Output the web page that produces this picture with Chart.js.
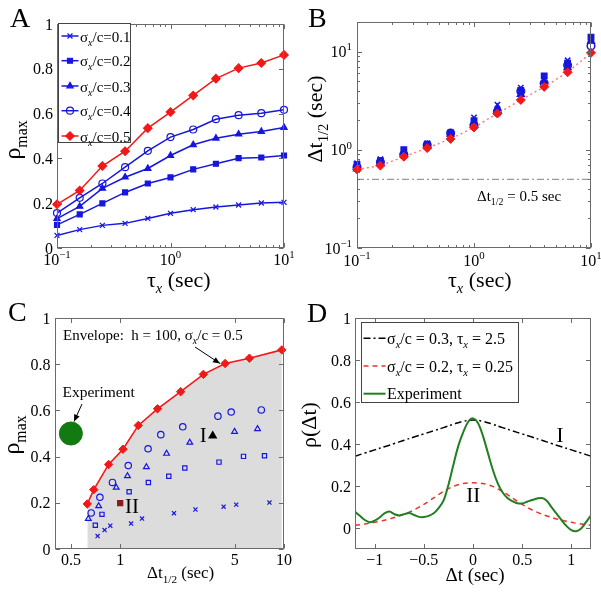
<!DOCTYPE html>
<html><head><meta charset="utf-8">
<script src="https://cdn.jsdelivr.net/npm/chart.js@4.4.1/dist/chart.umd.min.js"></script>
<style>
html,body{margin:0;padding:0;background:#fff;}
#wrap{position:relative;width:601px;height:592px;overflow:hidden;}
canvas{position:absolute;left:0;top:0;}
</style></head><body>
<div id="wrap">
<canvas id="cA" width="601" height="592"></canvas>
<canvas id="cB" width="601" height="592"></canvas>
<canvas id="cC" width="601" height="592"></canvas>
<canvas id="cD" width="601" height="592"></canvas>
</div>
<script>
// ---------------- DATA ----------------
const taus = [0.1, 0.1585, 0.2512, 0.3981, 0.631, 1, 1.585, 2.512, 3.981, 6.31, 10];
const sigmaLabels = ['0.1', '0.2', '0.3', '0.4', '0.5'];
// rho_max vs tau (panel A, also y of panel C)
const rho01 = [0.056, 0.082, 0.101, 0.110, 0.132, 0.155, 0.171, 0.183, 0.192, 0.201, 0.204];
const rho02 = [0.103, 0.150, 0.199, 0.248, 0.288, 0.315, 0.351, 0.376, 0.401, 0.404, 0.413];
const rho03 = [0.131, 0.186, 0.266, 0.316, 0.355, 0.413, 0.461, 0.490, 0.508, 0.520, 0.538];
const rho04 = [0.156, 0.224, 0.288, 0.361, 0.434, 0.495, 0.529, 0.575, 0.593, 0.602, 0.617];
const rho05 = [0.195, 0.257, 0.366, 0.432, 0.535, 0.607, 0.681, 0.756, 0.803, 0.826, 0.862];
// Delta t_1/2 vs tau (panel B, also x of panel C)
const dt01 = [0.728, 0.803, 0.870, 1.166, 1.36, 2.13, 2.88, 4.28, 5.11, 8.15, 13.5];
const dt02 = [0.705, 0.774, 1.0, 1.134, 1.486, 1.98, 2.48, 4.01, 5.66, 7.60, 14.0];
const dt03 = [0.639, 0.739, 0.946, 1.108, 1.445, 1.92, 2.66, 3.67, 4.99, 6.89, 12.8];
const dt04 = [0.665, 0.752, 0.897, 1.12, 1.48, 1.77, 2.41, 3.95, 4.76, 7.27, 11.4];
const dt05 = [0.63, 0.69, 0.85, 1.04, 1.29, 1.69, 2.34, 3.22, 4.37, 6.15, 9.7];
const refDt = 0.5;
const highlightI = 7;   // sigma=0.3, tau=2.5
const highlightII = 2;  // sigma=0.2, tau=0.25
const expDt = [0.5];
const expRho = [0.5];
// panel D
const lagModel = [-1.2,-1.1,-1.0,-0.9,-0.8,-0.7,-0.6,-0.5,-0.4,-0.3,-0.2,-0.1,0,0.1,0.2,0.3,0.4,0.5,0.6,0.7,0.8,0.9,1.0,1.1,1.2];
const rhoI  = [0.342,0.357,0.372,0.387,0.402,0.418,0.433,0.448,0.463,0.478,0.494,0.508,0.514,0.508,0.494,0.478,0.463,0.448,0.433,0.418,0.402,0.387,0.372,0.357,0.342];
const rhoII = [0.013,0.019,0.027,0.037,0.050,0.066,0.086,0.112,0.143,0.174,0.198,0.212,0.215,0.212,0.198,0.174,0.143,0.112,0.086,0.066,0.050,0.037,0.027,0.019,0.013];
const lagExp = [-1.2,-1.15,-1.1,-1.05,-1.0,-0.95,-0.9,-0.85,-0.8,-0.75,-0.7,-0.65,-0.6,-0.55,-0.5,-0.45,-0.4,-0.35,-0.3,-0.25,-0.2,-0.15,-0.1,-0.05,0,0.05,0.1,0.15,0.2,0.25,0.3,0.35,0.4,0.45,0.5,0.55,0.6,0.65,0.7,0.75,0.8,0.85,0.9,0.95,1.0,1.05,1.1,1.15,1.2];
const rhoExp = [0.077,0.058,0.038,0.027,0.035,0.050,0.070,0.078,0.066,0.060,0.066,0.071,0.062,0.053,0.052,0.058,0.070,0.095,0.130,0.205,0.300,0.390,0.455,0.505,0.522,0.500,0.440,0.360,0.280,0.215,0.170,0.143,0.128,0.118,0.117,0.125,0.133,0.140,0.143,0.130,0.098,0.068,0.038,0.010,-0.010,-0.015,-0.002,0.028,0.060];
// tick labels
const logTicks = [0.1, 1, 10];
const logTickLabels = ['10^{\u22121}', '10^{0}', '10^{1}'];
const rhoTicks = [0, 0.2, 0.4, 0.6, 0.8, 1];
const rhoTickLabels = ['0', '0.2', '0.4', '0.6', '0.8', '1'];
const cTicksX = [0.5, 1, 5, 10];
const cTickLabelsX = ['0.5', '1', '5', '10'];
const dTicksX = [-1, -0.5, 0, 0.5, 1];
const dTickLabelsX = ['\u22121', '\u22120.5', '0', '0.5', '1'];

// ---------------- HELPERS ----------------
const FONT = '"Liberation Serif","Times New Roman",serif';
const AXIS = '#6a6a6a';
const BLUE = '#1616e0', RED = '#f01818', GREEN_D = '#217f21', GREEN_C = '#117a11';
function fnt(sz, it){ return (it ? 'italic ' : '') + sz + 'px ' + FONT; }
function parse(str){
  const parts = []; let i = 0, buf = '';
  while (i < str.length){
    const c = str[i];
    if ((c === '_' || c === '^') && (str[i+1] === '{' || str[i+1] === '[')){
      if (buf){ parts.push({t: buf, k: 'n'}); buf = ''; }
      const close = str[i+1] === '{' ? '}' : ']';
      const j = str.indexOf(close, i + 2);
      parts.push({t: str.slice(i + 2, j), k: c === '^' ? 'sup' : (close === ']' ? 'subi' : 'sub')});
      i = j + 1;
    } else { buf += c; i++; }
  }
  if (buf) parts.push({t: buf, k: 'n'});
  return parts;
}
function drawRich(ctx, str, x, y, S, align, color, rot){
  ctx.save(); ctx.translate(x, y); if (rot) ctx.rotate(rot);
  const segs = parse(str).map(p => {
    let sz = S, dy = 0, it = false;
    if (p.k === 'sub' || p.k === 'subi'){ sz = S * 0.66; dy = S * 0.28; }
    if (p.k === 'sup'){ sz = S * 0.68; dy = -S * 0.42; }
    if (p.k === 'subi') it = true;
    ctx.font = fnt(sz, it);
    return {t: p.t, sz, dy, it, w: ctx.measureText(p.t).width};
  });
  const total = segs.reduce((a, s) => a + s.w, 0);
  let cx = align === 'center' ? -total / 2 : (align === 'right' ? -total : 0);
  ctx.fillStyle = color || '#000'; ctx.textBaseline = 'alphabetic'; ctx.textAlign = 'left';
  for (const s of segs){ ctx.font = fnt(s.sz, s.it); ctx.fillText(s.t, cx, s.dy); cx += s.w; }
  ctx.restore();
}
function logMinor(min, max){
  const out = [];
  for (let d = Math.pow(10, Math.floor(Math.log10(min))); d < max; d *= 10)
    for (let k = 2; k <= 9; k++){ const v = k * d; if (v > min * 1.0001 && v < max * 0.9999) out.push(v); }
  return out;
}
function arrow(ctx, x1, y1, x2, y2){
  ctx.save(); ctx.strokeStyle = '#000'; ctx.fillStyle = '#000'; ctx.lineWidth = 1;
  ctx.beginPath(); ctx.moveTo(x1, y1); ctx.lineTo(x2, y2); ctx.stroke();
  const a = Math.atan2(y2 - y1, x2 - x1), L = 7, W = 3;
  ctx.beginPath(); ctx.moveTo(x2, y2);
  ctx.lineTo(x2 - L*Math.cos(a) + W*Math.sin(a), y2 - L*Math.sin(a) - W*Math.cos(a));
  ctx.lineTo(x2 - L*Math.cos(a) - W*Math.sin(a), y2 - L*Math.sin(a) + W*Math.cos(a));
  ctx.closePath(); ctx.fill(); ctx.restore();
}
function pts(xs, ys){ return xs.map((x, i) => ({x: x, y: ys[i]})); }

function makeDeco(cfg){
  return { id: 'deco' + cfg.id, afterDraw(chart){
    const ctx = chart.ctx, a = chart.chartArea, xs = chart.scales.x, ys = chart.scales.y;
    ctx.save();
    ctx.strokeStyle = AXIS; ctx.lineWidth = 1; ctx.setLineDash([]);
    const seg = (x1, y1, x2, y2) => { ctx.beginPath(); ctx.moveTo(x1, y1); ctx.lineTo(x2, y2); ctx.stroke(); };
    const L = Math.round(a.left) + 0.5, R = Math.round(a.right) - 0.5, T = Math.round(a.top) + 0.5, B = Math.round(a.bottom) - 0.5;
    const xt = (vals, len) => vals.forEach(v => { const p = Math.round(xs.getPixelForValue(v)) + 0.5; seg(p, B, p, B - len); seg(p, T, p, T + len); });
    const yt = (vals, len) => vals.forEach(v => { const p = Math.round(ys.getPixelForValue(v)) + 0.5; seg(L, p, L + len, p); seg(R, p, R - len, p); });
    xt(cfg.xMajor, 4.5); yt(cfg.yMajor, 4.5);
    if (cfg.xMinor) xt(cfg.xMinor, 2.5);
    if (cfg.yMinor) yt(cfg.yMinor, 2.5);
    ctx.strokeRect(L, T, R - L, B - T);
    cfg.xMajor.forEach((v, i) => drawRich(ctx, cfg.xLabels[i], xs.getPixelForValue(v), a.bottom + cfg.xLabDy, 16, 'center'));
    cfg.yMajor.forEach((v, i) => drawRich(ctx, cfg.yLabels[i], a.left - cfg.yLabDx, ys.getPixelForValue(v) + 5.5, 16, 'right'));
    (cfg.texts || []).forEach(t => drawRich(ctx, t.s, t.x, t.y, t.size, t.align || 'left', t.color, t.rot));
    if (cfg.extra) cfg.extra(ctx, chart);
    ctx.restore();
  }};
}
function baseOpts(L, T, R, B, xType, xMin, xMax, yType, yMin, yMax){
  return {
    responsive: false, animation: false, devicePixelRatio: 1,
    layout: {padding: {left: L, top: T, right: 601 - R, bottom: 592 - B}, autoPadding: false},
    plugins: {legend: {display: false}, tooltip: {enabled: false}},
    events: [],
    scales: {
      x: {type: xType, min: xMin, max: xMax, display: false},
      y: {type: yType, min: yMin, max: yMax, display: false}
    }
  };
}
const PD = Chart.helpers.drawPoint;
const styleA = [
  {ps: 'crossRot', r: 3.5, fill: BLUE, col: BLUE},
  {ps: 'rect', r: 3.5, fill: BLUE, col: BLUE},
  {ps: 'triangle', r: 3.6, fill: BLUE, col: BLUE},
  {ps: 'circle', r: 3.5, fill: 'rgba(255,255,255,0)', col: BLUE},
  {ps: 'rectRot', r: 4.2, fill: RED, col: RED}
];
const radiusC = [2.9, 3.0, 3.3, 3.2];
const rhoAll = [rho01, rho02, rho03, rho04, rho05];
const dtAll = [dt01, dt02, dt03, dt04, dt05];

// ---------------- PANEL A ----------------
(function(){
  const o = baseOpts(57, 24, 284, 248, 'logarithmic', 0.1, 10, 'linear', 0, 1);
  const datasets = rhoAll.map((r, k) => ({
    data: pts(taus, r), showLine: true, borderColor: styleA[k].col, borderWidth: 1.5,
    pointStyle: styleA[k].ps, pointRadius: styleA[k].r, pointBackgroundColor: styleA[k].fill,
    pointBorderColor: styleA[k].col, pointBorderWidth: 1.2, clip: false, order: 5 - k
  }));
  new Chart(document.getElementById('cA'), {type: 'scatter', data: {datasets}, options: o,
    plugins: [makeDeco({id: 'A', xMajor: logTicks, xMinor: logMinor(0.1, 10), yMajor: rhoTicks,
      xLabels: logTickLabels, yLabels: rhoTickLabels, xLabDy: 17, yLabDx: 4,
      texts: [
        {s: 'A', x: 10, y: 27, size: 28},
        {s: '\u03C4_[x] (sec)', x: 147, y: 287, size: 22},
        {s: '\u03C1_{max}', x: 20, y: 140, size: 24, align: 'center', rot: -Math.PI/2}
      ],
      extra(ctx){
        ctx.fillStyle = '#fff'; ctx.fillRect(58, 23, 73, 120);
        ctx.strokeStyle = '#444'; ctx.lineWidth = 1; ctx.strokeRect(58.5, 23.5, 72, 119);
        const ys = [36, 60.7, 86, 110.7, 136];
        ys.forEach((y, k) => {
          const st = styleA[k];
          ctx.strokeStyle = st.col; ctx.lineWidth = 1.5;
          ctx.beginPath(); ctx.moveTo(61.5, y); ctx.lineTo(78.5, y); ctx.stroke();
          ctx.fillStyle = st.fill; ctx.lineWidth = 1.2;
          PD(ctx, {pointStyle: st.ps, radius: st.r, borderWidth: 1.2, rotation: 0}, 70, y);
          drawRich(ctx, '\u03C3_[x]/c=' + sigmaLabels[k], 80, y + 5.5, 15, 'left');
        });
      }
    })]
  });
})();

// ---------------- PANEL B ----------------
(function(){
  const o = baseOpts(357, 22, 591, 248, 'logarithmic', 0.1, 10, 'logarithmic', 0.1, 20);
  const datasets = [0, 1, 2, 3].map(k => ({
    data: pts(taus, dtAll[k]), showLine: false,
    pointStyle: styleA[k].ps, pointRadius: styleA[k].r + 0.3, pointBackgroundColor: styleA[k].fill,
    pointBorderColor: styleA[k].col, pointBorderWidth: 1.5, clip: false, order: 2
  }));
  datasets.push({
    data: pts(taus, dt05), showLine: true, borderColor: '#ff7a7a', borderWidth: 1.5, borderDash: [2, 3],
    pointStyle: 'rectRot', pointRadius: 4.5, pointBackgroundColor: RED, pointBorderColor: RED,
    pointBorderWidth: 1, clip: false, order: 1
  });
  datasets.push({
    data: [{x: 0.1, y: refDt}, {x: 10, y: refDt}], showLine: true, borderColor: '#9a9a9a',
    borderWidth: 1.2, borderDash: [7, 3, 2, 3], pointRadius: 0, order: 3
  });
  new Chart(document.getElementById('cB'), {type: 'scatter', data: {datasets}, options: o,
    plugins: [makeDeco({id: 'B', xMajor: logTicks, xMinor: logMinor(0.1, 10), yMajor: logTicks, yMinor: logMinor(0.1, 20),
      xLabels: logTickLabels, yLabels: logTickLabels, xLabDy: 18, yLabDx: 5,
      texts: [
        {s: 'B', x: 308, y: 27, size: 28},
        {s: '\u03C4_[x] (sec)', x: 448, y: 287, size: 22},
        {s: '\u0394t_{1/2} (sec)', x: 322, y: 119, size: 22, align: 'center', rot: -Math.PI/2},
        {s: '\u0394t_{1/2} = 0.5 sec', x: 477, y: 201, size: 15}
      ]
    })]
  });
})();

// ---------------- PANEL C ----------------
(function(){
  const o = baseOpts(55, 318, 284, 549, 'logarithmic', 0.4, 10, 'linear', 0, 1);
  const hollow = 'rgba(255,255,255,0)';
  const datasets = [];
  datasets.push({ // experiment
    data: pts(expDt, expRho), showLine: false, pointStyle: 'circle', pointRadius: 11.5,
    pointBackgroundColor: GREEN_C, pointBorderColor: GREEN_C, pointBorderWidth: 1, clip: false, order: 0
  });
  [0, 1, 2, 3].forEach(k => {
    datasets.push({
      data: pts(dtAll[k], rhoAll[k]), showLine: false, pointStyle: styleA[k].ps,
      pointRadius: (c) => (k === 2 && c.dataIndex === highlightI) ? 4.2 : (k === 1 && c.dataIndex === highlightII ? 3.6 : radiusC[k]),
      pointBackgroundColor: (c) => (k === 2 && c.dataIndex === highlightI) ? '#000' : (k === 1 && c.dataIndex === highlightII ? '#8a1c1c' : hollow),
      pointBorderColor: (c) => (k === 2 && c.dataIndex === highlightI) ? '#000' : (k === 1 && c.dataIndex === highlightII ? '#8a1c1c' : BLUE),
      pointBorderWidth: 1.2, order: 1
    });
  });
  datasets.push({ // envelope
    data: pts(dt05, rho05), showLine: true, borderColor: RED, borderWidth: 1.6,
    fill: 'origin', backgroundColor: '#dcdcdc',
    pointStyle: 'rectRot', pointRadius: 4.2, pointBackgroundColor: RED, pointBorderColor: RED,
    pointBorderWidth: 1, clip: false, order: 10
  });
  new Chart(document.getElementById('cC'), {type: 'scatter', data: {datasets}, options: o,
    plugins: [makeDeco({id: 'C', xMajor: cTicksX, yMajor: rhoTicks,
      xLabels: cTickLabelsX, yLabels: rhoTickLabels, xLabDy: 16, yLabDx: 4.5,
      texts: [
        {s: 'C', x: 8, y: 321, size: 28},
        {s: '\u0394t_{1/2} (sec)', x: 147, y: 578, size: 17},
        {s: '\u03C1_{max}', x: 19, y: 435, size: 24, align: 'center', rot: -Math.PI/2},
        {s: 'Envelope:  h = 100, \u03C3_[x]/c = 0.5', x: 63, y: 340, size: 15},
        {s: 'Experiment', x: 62.5, y: 396.5, size: 15.5},
        {s: 'I', x: 203.3, y: 441.7, size: 21, align: 'center'},
        {s: 'II', x: 132, y: 513, size: 21, align: 'center'}
      ],
      extra(ctx){
        arrow(ctx, 195, 347, 220, 363.5);
        arrow(ctx, 82, 404, 74, 421.5);
      }
    })]
  });
})();

// ---------------- PANEL D ----------------
(function(){
  const o = baseOpts(355, 318, 591, 549, 'linear', -1.2, 1.2, 'linear', -0.1, 1);
  const datasets = [
    {data: pts(lagModel, rhoI), showLine: true, borderColor: '#000', borderWidth: 1.5, borderDash: [7, 3, 2, 3], pointRadius: 0, tension: 0.4, order: 2},
    {data: pts(lagModel, rhoII), showLine: true, borderColor: '#e5332a', borderWidth: 1.5, borderDash: [5, 4], pointRadius: 0, tension: 0.3, order: 1},
    {data: pts(lagExp, rhoExp), showLine: true, borderColor: GREEN_D, borderWidth: 2, pointRadius: 0, tension: 0.35, order: 0}
  ];
  const legendRows = [
    {s: '\u03C3_[x]/c = 0.3, \u03C4_[x] = 2.5', col: '#000', dash: [7, 3, 2, 3], w: 1.5},
    {s: '\u03C3_[x]/c = 0.2, \u03C4_[x] = 0.25', col: '#e5332a', dash: [5, 4], w: 1.5},
    {s: 'Experiment', col: GREEN_D, dash: [], w: 2}
  ];
  new Chart(document.getElementById('cD'), {type: 'scatter', data: {datasets}, options: o,
    plugins: [makeDeco({id: 'D', xMajor: dTicksX, yMajor: rhoTicks,
      xLabels: dTickLabelsX, yLabels: rhoTickLabels, xLabDy: 16, yLabDx: 4,
      texts: [
        {s: 'D', x: 307, y: 321.5, size: 28},
        {s: '\u0394t (sec)', x: 475, y: 581, size: 19, align: 'center'},
        {s: '\u03C1(\u0394t)', x: 316, y: 425, size: 22, align: 'center', rot: -Math.PI/2},
        {s: 'I', x: 560, y: 441.7, size: 21, align: 'center'},
        {s: 'II', x: 473.3, y: 501.7, size: 21, align: 'center'}
      ],
      extra(ctx){
        ctx.fillStyle = '#fff'; ctx.fillRect(361, 322, 158, 81);
        ctx.strokeStyle = '#444'; ctx.lineWidth = 1; ctx.setLineDash([]); ctx.strokeRect(361.5, 322.5, 157, 80);
        [338.3, 366, 393.7].forEach((y, k) => {
          const r = legendRows[k];
          ctx.strokeStyle = r.col; ctx.lineWidth = r.w; ctx.setLineDash(r.dash);
          ctx.beginPath(); ctx.moveTo(363.5, y); ctx.lineTo(385.5, y); ctx.stroke();
          ctx.setLineDash([]);
          drawRich(ctx, r.s, 387, y + 5.5, 16, 'left');
        });
      }
    })]
  });
})();
</script>
</body></html>
